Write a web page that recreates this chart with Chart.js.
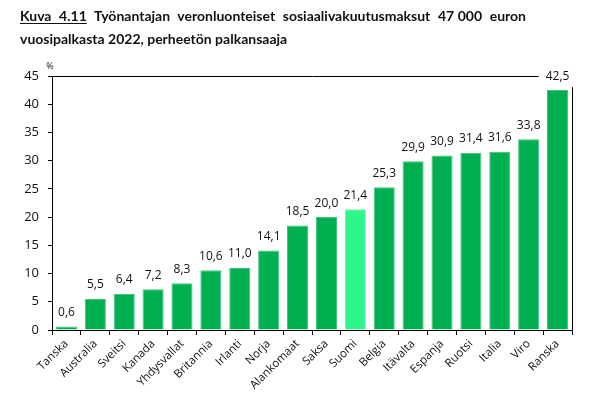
<!DOCTYPE html>
<html>
<head>
<meta charset="utf-8">
<script src="https://cdn.jsdelivr.net/npm/chart.js@4/dist/chart.umd.min.js"></script>
<style>
  body { margin: 0; background: #fff; }
  #wrap { position: relative; width: 593px; height: 399px; }
  #title { position: absolute; left: 20px; top: 4px; width: 506px;
           font-family: Lato, sans-serif; font-weight: bold; font-size: 14px;
           line-height: 23px; color: #111; }
  #title .l1 { text-align: justify; text-align-last: justify; white-space: nowrap; }
  #title u { text-underline-offset: 2px; }
  canvas { position: absolute; left: 0; top: 0; }
</style>
</head>
<body>
<div id="wrap">
  <canvas id="chart" width="593" height="399"></canvas>
  <div id="title">
    <div class="l1"><u>Kuva 4.11</u> Työnantajan veronluonteiset sosiaalivakuutusmaksut 47&#8239;000 euron</div>
    <div>vuosipalkasta 2022, perheetön palkansaaja</div>
  </div>
</div>
<script>
// countries, lowest to highest
const countries = ['Tanska', 'Australia', 'Sveitsi', 'Kanada', 'Yhdysvallat', 'Britannia',
  'Irlanti', 'Norja', 'Alankomaat', 'Saksa', 'Suomi', 'Belgia', 'Itävalta', 'Espanja',
  'Ruotsi', 'Italia', 'Viro', 'Ranska'];
const payments = [0.6, 5.5, 6.4, 7.2, 8.3, 10.6, 11.0, 14.1, 18.5, 20.0, 21.4, 25.3,
  29.9, 30.9, 31.4, 31.6, 33.8, 42.5];
const yTicks = [0, 5, 10, 15, 20, 25, 30, 35, 40, 45];

const green = '#00b050';
const highlight = '#2ff58a'; // Suomi

const fmt = v => v.toFixed(1).replace('.', ',');

// frame on top/right, value labels and the % unit
const extras = {
    id: 'extras',
    afterDatasetsDraw(chart) {
        const ctx = chart.ctx;
        const a = chart.chartArea;
        const bars = chart.getDatasetMeta(0).data;
        ctx.save();
        ctx.strokeStyle = '#000';
        ctx.lineWidth = 1;
        ctx.beginPath();
        ctx.moveTo(a.left, a.top + 0.5);
        ctx.lineTo(a.right + 0.5, a.top + 0.5);
        ctx.lineTo(a.right + 0.5, a.bottom);
        ctx.stroke();

        ctx.font = '12px "Open Sans", sans-serif';
        ctx.textAlign = 'center';
        ctx.textBaseline = 'middle';
        // labels that sit on the frame get a white patch behind them
        bars.forEach((bar, i) => {
            const y = bar.y - 14;
            if (y - 10 < a.top) {
                const w = ctx.measureText(fmt(payments[i])).width;
                ctx.fillStyle = '#fff';
                ctx.fillRect(bar.x - w / 2 - 7, y - 11, w + 24, bar.y - 3 - (y - 11));
            }
        });
        ctx.fillStyle = '#111';
        bars.forEach((bar, i) => ctx.fillText(fmt(payments[i]), bar.x, bar.y - 14));

        ctx.font = '9px "Open Sans", sans-serif';
        ctx.fillText('%', a.left - 2, a.top - 10);
        ctx.restore();
    }
};

new Chart(document.getElementById('chart'), {
    type: 'bar',
    data: {
        labels: countries,
        datasets: [{
            data: payments,
            backgroundColor: countries.map(c => c === 'Suomi' ? highlight : green),
            borderColor: countries.map(c => c === 'Suomi' ? '#6ff7ae' : '#3fc27a'),
            borderWidth: 1,
            borderSkipped: 'bottom',
            barPercentage: 0.73,
            categoryPercentage: 1
        }]
    },
    options: {
        responsive: false,
        animation: false,
        layout: { padding: { top: 76, right: 21, left: 0, bottom: 0 } },
        plugins: { legend: { display: false }, tooltip: { enabled: false } },
        scales: {
            x: {
                grid: { display: true, drawOnChartArea: false, offset: true, color: '#000', tickLength: 5 },
                border: { color: '#000' },
                ticks: {
                    autoSkip: false, maxRotation: 45, minRotation: 45, padding: 2,
                    color: '#111', font: { family: '"Open Sans", sans-serif', size: 11.5 }
                },
                afterFit: s => { s.height = 69; }
            },
            y: {
                min: 0, max: 45,
                afterBuildTicks: s => { s.ticks = yTicks.map(v => ({ value: v })); },
                grid: { display: true, drawOnChartArea: false, color: '#000', tickLength: 4 },
                border: { color: '#000' },
                ticks: { padding: 9, color: '#111', font: { family: '"Open Sans", sans-serif', size: 13 } },
                afterFit: s => { s.width = 52; }
            }
        }
    },
    plugins: [extras]
});
</script>
</body>
</html>
